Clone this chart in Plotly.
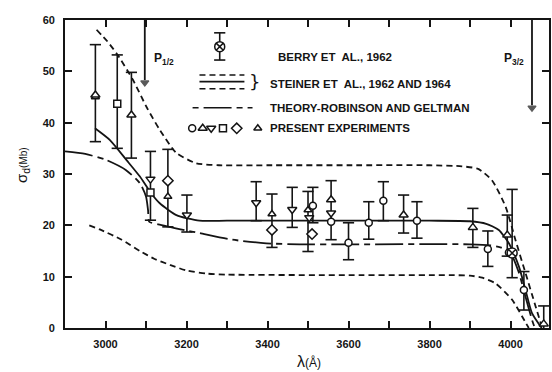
import plotly.graph_objects as go

# ---------------- data ----------------
# Steiner et al. (upper dashed bound)
steiner_hi_x = [2978, 3005, 3030, 3068, 3101, 3134, 3175, 3224, 3280, 3400, 3600, 3800, 3880, 3920, 3954, 3988, 4012, 4037, 4062, 4077]
steiner_hi_y = [58.1, 55.8, 53.2, 48.3, 43.1, 38.6, 34.1, 32.1, 31.7, 31.7, 31.7, 31.7, 31.5, 31.0, 28.8, 23.6, 17.2, 10.7, 4.2, 0.3]
# Steiner et al. (solid)
steiner_mid_x = [2974, 3011, 3052, 3085, 3113, 3134, 3175, 3232, 3300, 3500, 3800, 3900, 3940, 3971, 3996, 4021, 4037, 4053, 4077]
steiner_mid_y = [38.9, 36.6, 32.7, 29.5, 26.2, 24.3, 22.0, 20.9, 20.9, 20.9, 20.9, 20.8, 20.3, 19.1, 16.5, 11.9, 7.4, 2.9, 0.0]
# Steiner et al. (lower dashed bound)
steiner_lo_x = [2960, 2986, 3040, 3085, 3120, 3159, 3200, 3250, 3300, 3600, 3850, 3900, 3930, 3963, 4004, 4029, 4045]
steiner_lo_y = [20.0, 19.2, 17.2, 15.0, 13.5, 12.3, 11.2, 10.6, 10.4, 10.3, 10.3, 10.2, 9.8, 8.7, 5.5, 2.2, 0.0]
# Theory - Robinson and Geltman
theory_x = [2900, 2950, 3000, 3050, 3085, 3100, 3105, 3108, 3130, 3200, 3232, 3313, 3397, 3479, 3600, 3900, 3950, 3975, 3996, 4021, 4037, 4053, 4060]
theory_y = [34.4, 33.9, 32.8, 30.8, 28.2, 25.6, 23.0, 20.7, 20.2, 19.0, 18.5, 17.2, 16.5, 16.3, 16.3, 16.3, 16.1, 15.7, 15.2, 10.7, 6.1, 1.6, 0.0]

# Present experiments
circ_x = [3512, 3557, 3600, 3650, 3686, 3769, 3944, 3996, 4033]
circ_y = [23.8, 20.7, 16.6, 20.5, 24.8, 20.9, 15.4, 14.7, 7.4]
triup_x = [2975, 3064, 3557, 3736, 3907, 3992, 4082]
triup_y = [45.4, 41.5, 25.0, 22.0, 19.6, 18.1, 0.8]
tridn_x = [3111, 3201, 3372, 3461, 3557, 3503]
tridn_y = [29.0, 22.0, 24.4, 23.1, 22.4, 21.5]
sq_x = [3029, 3111]
sq_y = [43.7, 26.4]
diam_x = [3154, 3411, 3510]
diam_y = [28.7, 19.1, 18.3]
half_x = [2975, 3154, 3411, 3500]
half_y = [45.0, 25.6, 22.2, 23.0]
# Berry et al. 1962
berry_x = [4004]
berry_y = [14.6]

# error bars (x, low, high)
err_x = [2975, 3029, 3064, 3111, 3154, 3201, 3372, 3411, 3461, 3500, 3512, 3557, 3600, 3650, 3686, 3736, 3769, 3907, 3944, 3992, 4004, 4033, 4082]
err_lo = [36.3, 35.0, 33.1, 21.0, 19.7, 18.7, 20.9, 15.7, 19.6, 14.9, 20.5, 17.2, 13.3, 17.3, 20.9, 18.5, 17.5, 15.7, 12.0, 14.0, 9.8, 3.5, -2.0]
err_hi = [55.2, 53.2, 49.8, 34.4, 34.8, 25.9, 28.5, 26.1, 27.4, 26.6, 27.4, 28.7, 20.5, 24.6, 28.5, 25.9, 24.6, 23.3, 18.9, 22.0, 27.0, 11.0, 4.3]

# threshold wavelengths (arrows) and their labels
thresh_x = [3097, 4053]
thresh_tip = [46.8, 41.9]
thresh_labels = ["P<sub>1/2</sub>", "P<sub>3/2</sub>"]

y_ticks = [0, 10, 20, 30, 40, 50, 60]

legend_labels = ["BERRY ET  AL., 1962", "STEINER ET  AL., 1962 AND 1964",
                 "THEORY-ROBINSON AND GELTMAN", "PRESENT EXPERIMENTS"]

# ---------------- figure ----------------
INK = "#141414"
FONT = "Liberation Sans"
fig = go.Figure()

def curve(x, y, dash, width=1.8):
    fig.add_trace(go.Scatter(x=x, y=y, mode="lines",
                             line=dict(color=INK, width=width, dash=dash, shape="spline", smoothing=0.6),
                             hoverinfo="skip", showlegend=False, cliponaxis=True))

curve(steiner_hi_x, steiner_hi_y, "6px,4px")
curve(steiner_lo_x, steiner_lo_y, "6px,4px")
curve(steiner_mid_x, steiner_mid_y, "solid")
curve(theory_x, theory_y, "28px,5px,6px,5px")

# error bars
ex, ey = [], []
for x, lo, hi in zip(err_x, err_lo, err_hi):
    ex += [x, x, None]
    ey += [lo, hi, None]
fig.add_trace(go.Scatter(x=ex, y=ey, mode="lines", line=dict(color=INK, width=1.6),
                         hoverinfo="skip", showlegend=False))
fig.add_trace(go.Scatter(x=err_x + err_x, y=err_lo + err_hi, mode="markers",
                         marker=dict(symbol="line-ew", size=8, line=dict(color=INK, width=1.6)),
                         hoverinfo="skip", showlegend=False, cliponaxis=False))

def pts(x, y, symbol, size, color="white"):
    fig.add_trace(go.Scatter(x=x, y=y, mode="markers",
                             marker=dict(symbol=symbol, size=size, color=color,
                                         line=dict(color=INK, width=1.5)),
                             hoverinfo="skip", showlegend=False, cliponaxis=False))

pts(half_x, half_y, "triangle-up", 7)
pts(circ_x, circ_y, "circle", 7)
pts(triup_x, triup_y, "triangle-up", 8)
pts(tridn_x, tridn_y, "triangle-down", 8)
pts(sq_x, sq_y, "square", 7)
pts(diam_x, diam_y, "diamond", 8)
pts(berry_x, berry_y, "circle-x", 10)

# threshold arrows
for xv, tip in zip(thresh_x, thresh_tip):
    fig.add_trace(go.Scatter(x=[xv, xv], y=[60, tip + 1.5], mode="lines",
                             line=dict(color=INK, width=1.8), hoverinfo="skip", showlegend=False))
    fig.add_trace(go.Scatter(x=[xv], y=[tip + 1.0], mode="markers",
                             marker=dict(symbol="triangle-down", size=[7], color=INK,
                                         line=dict(color=INK, width=1.2)),
                             hoverinfo="skip", showlegend=False, cliponaxis=False))

# ---- legend glyphs (data coordinates) ----
fig.add_trace(go.Scatter(x=[3282, 3282], y=[52.2, 57.5], mode="lines+markers",
                         line=dict(color=INK, width=1.6),
                         marker=dict(symbol="line-ew", size=8, line=dict(color=INK, width=1.6)),
                         hoverinfo="skip", showlegend=False))
pts([3282], [54.8], "circle-x", 10)
fig.add_trace(go.Scatter(x=[3232, 3343], y=[49.3, 49.3], mode="lines",
                         line=dict(color=INK, width=1.6, dash="6px,4px"), hoverinfo="skip", showlegend=False))
fig.add_trace(go.Scatter(x=[3232, 3343], y=[48.0, 48.0], mode="lines",
                         line=dict(color=INK, width=1.6), hoverinfo="skip", showlegend=False))
fig.add_trace(go.Scatter(x=[3232, 3343], y=[46.6, 46.6], mode="lines",
                         line=dict(color=INK, width=1.6, dash="6px,4px"), hoverinfo="skip", showlegend=False))
fig.add_trace(go.Scatter(x=[3215, 3363], y=[42.9, 42.9], mode="lines",
                         line=dict(color=INK, width=1.6, dash="6px,5px,28px,5px"), hoverinfo="skip", showlegend=False))
pts([3214], [38.9], "circle", 7)
pts([3240], [38.9], "triangle-up", 8)
pts([3261], [38.9], "triangle-down", 8)
pts([3290], [38.9], "square", 7)
pts([3324], [38.9], "diamond", 8)
pts([3376], [38.9], "triangle-up", 7)

ann = []
tf = dict(family=FONT, size=11.5, color=INK)
for lab, yv, xv in zip(legend_labels, [52.8, 47.6, 42.9, 39.0], [3421, 3402, 3402, 3402]):
    ann.append(dict(x=xv, y=yv, xref="x", yref="y", text="<b>" + lab + "</b>", showarrow=False,
                    xanchor="left", yanchor="middle", font=tf))
ann.append(dict(x=3368, y=48.0, xref="x", yref="y", text="}", showarrow=False,
                font=dict(family="DejaVu Sans", size=18, color=INK), xanchor="center", yanchor="middle"))
for lab, lx in zip(thresh_labels, [3114, 3979]):
    ann.append(dict(x=lx, y=52.5, xref="x", yref="y", text="<b>" + lab + "</b>", showarrow=False,
                    xanchor="left", yanchor="middle", font=dict(family=FONT, size=12, color=INK)))
# axis titles
ann.append(dict(x=-0.112, y=0.53, xref="paper", yref="paper", textangle=-90, showarrow=False,
                text="σ<sub>d</sub><span style='font-size:10px'>(Mb)</span>",
                font=dict(family=FONT, size=15, color=INK)))
ann.append(dict(x=0.504, y=-0.11, xref="paper", yref="paper", showarrow=False,
                text="λ<span style='font-size:12px'>(Å)</span>", yanchor="middle",
                font=dict(family=FONT, size=16, color=INK)))

fig.update_layout(
    width=552, height=372,
    margin=dict(l=65, r=1, t=20, b=44),
    paper_bgcolor="white", plot_bgcolor="white",
    showlegend=False,
    annotations=ann,
    xaxis=dict(range=[2900, 4095], tick0=3000, dtick=200, ticks="inside",
               ticklen=7, tickwidth=1.5, tickcolor=INK, showline=True, linecolor=INK, linewidth=1.8,
               mirror="ticks", showgrid=False, zeroline=False, ticklabelstandoff=5,
               minor=dict(tick0=3000, dtick=100, ticks="inside", ticklen=7, tickwidth=1.5, tickcolor=INK, showgrid=False),
               tickfont=dict(family=FONT, size=11, color=INK, weight="bold")),
    yaxis=dict(range=[0, 60], tickvals=y_ticks, ticks="inside",
               ticklen=7, tickwidth=1.5, tickcolor=INK, showline=True, linecolor=INK, linewidth=1.8,
               mirror="ticks", showgrid=False, zeroline=False, ticklabelstandoff=6,
               tickfont=dict(family=FONT, size=11, color=INK, weight="bold")),
)

fig.write_html("out.html", config={"displayModeBar": False},
               post_script="document.body.style.margin='0';document.body.style.overflow='hidden';")
